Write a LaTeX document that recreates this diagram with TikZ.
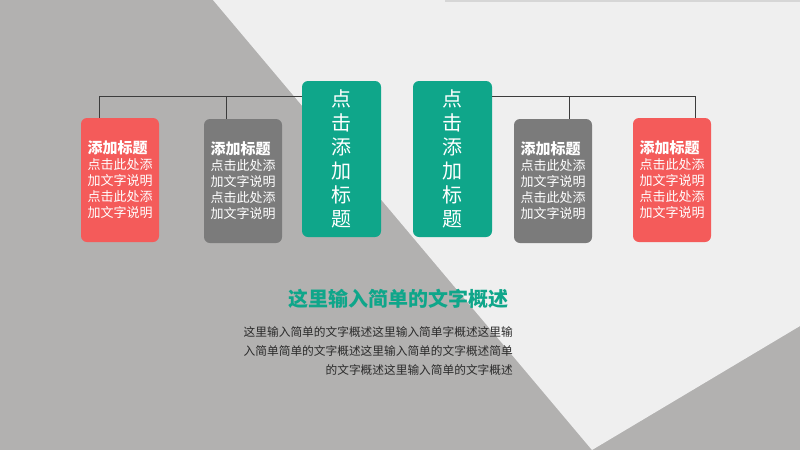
\documentclass[tikz,border=0pt]{standalone}
\usepackage{fontspec}
\setmainfont{Noto Sans CJK SC}
\usetikzlibrary{positioning}
\definecolor{bggray}{HTML}{B2B1B0}
\definecolor{bglight}{HTML}{EFEFEF}
\definecolor{cardcoral}{HTML}{F45B5A}
\definecolor{cardgray}{HTML}{7B7B7B}
\definecolor{cardgreen}{HTML}{0FA68A}
\definecolor{linkgray}{HTML}{3C3C3C}
\definecolor{bodytext}{HTML}{2B2B2B}
\tikzstyle{link} = [draw=linkgray, line width=0.8pt]
\newcommand{\cardtext}{{\fontsize{15}{17}\selectfont\bfseries 添加标题}\\点击此处添\\加文字说明\\点击此处添\\加文字说明}

\begin{document}
\begin{tikzpicture}[x=1pt, y=-1pt]
                \tikzstyle{every node}=[inner sep=0pt, text=white]
                \tikzstyle{card} = [rounded corners=6pt, minimum width=78pt, minimum height=124pt, align=left, font=\fontsize{13}{16}\selectfont]
                \tikzstyle{headbox} = [rounded corners=6pt, fill=cardgreen, minimum width=79pt, minimum height=156pt, align=center, font=\fontsize{20}{24}\selectfont]

                \fill[bggray] (0,0) rectangle (800,450);
                \fill[bglight] (213,0) -- (800,0) -- (800,326) -- (592,450) -- cycle;
                \fill[black!16] (445,0) rectangle (800,1.5);

                \node[headbox](g1) at (341.5,159) {点\\击\\添\\加\\标\\题};
                \node[headbox](g2) at (452.5,159) {点\\击\\添\\加\\标\\题};

                \node[card, fill=cardcoral](t1) at (120,180) {\cardtext};
                \node[card, fill=cardgray](t2) at (243,181) {\cardtext};
                \node[card, fill=cardgray](t3) at (553,181) {\cardtext};
                \node[card, fill=cardcoral](t4) at (672,180) {\cardtext};

                \coordinate (h1) at (99,96);
                \coordinate (h2) at (226,96);
                \coordinate (h3) at (569,96);
                \coordinate (h4) at (695,96);

                \draw[link] (g1.west |- h1) -- (h1) -- (h1 |- t1.north);
                \draw[link] (h2) -- (h2 |- t2.north);
                \draw[link] (g2.east |- h4) -- (h4) -- (h4 |- t4.north);
                \draw[link] (h3) -- (h3 |- t3.north);

                \node[text=cardgreen, font=\fontsize{20}{24}\selectfont\bfseries](title) at (398,299) {这里输入简单的文字概述};
                \node[text=bodytext, anchor=east, align=right, font=\fontsize{11.7}{19}\selectfont](body) at (513,351) {这里输入简单的文字概述这里输入简单字概述这里输\\入简单简单的文字概述这里输入简单的文字概述简单\\的文字概述这里输入简单的文字概述};
\end{tikzpicture}
\end{document}
